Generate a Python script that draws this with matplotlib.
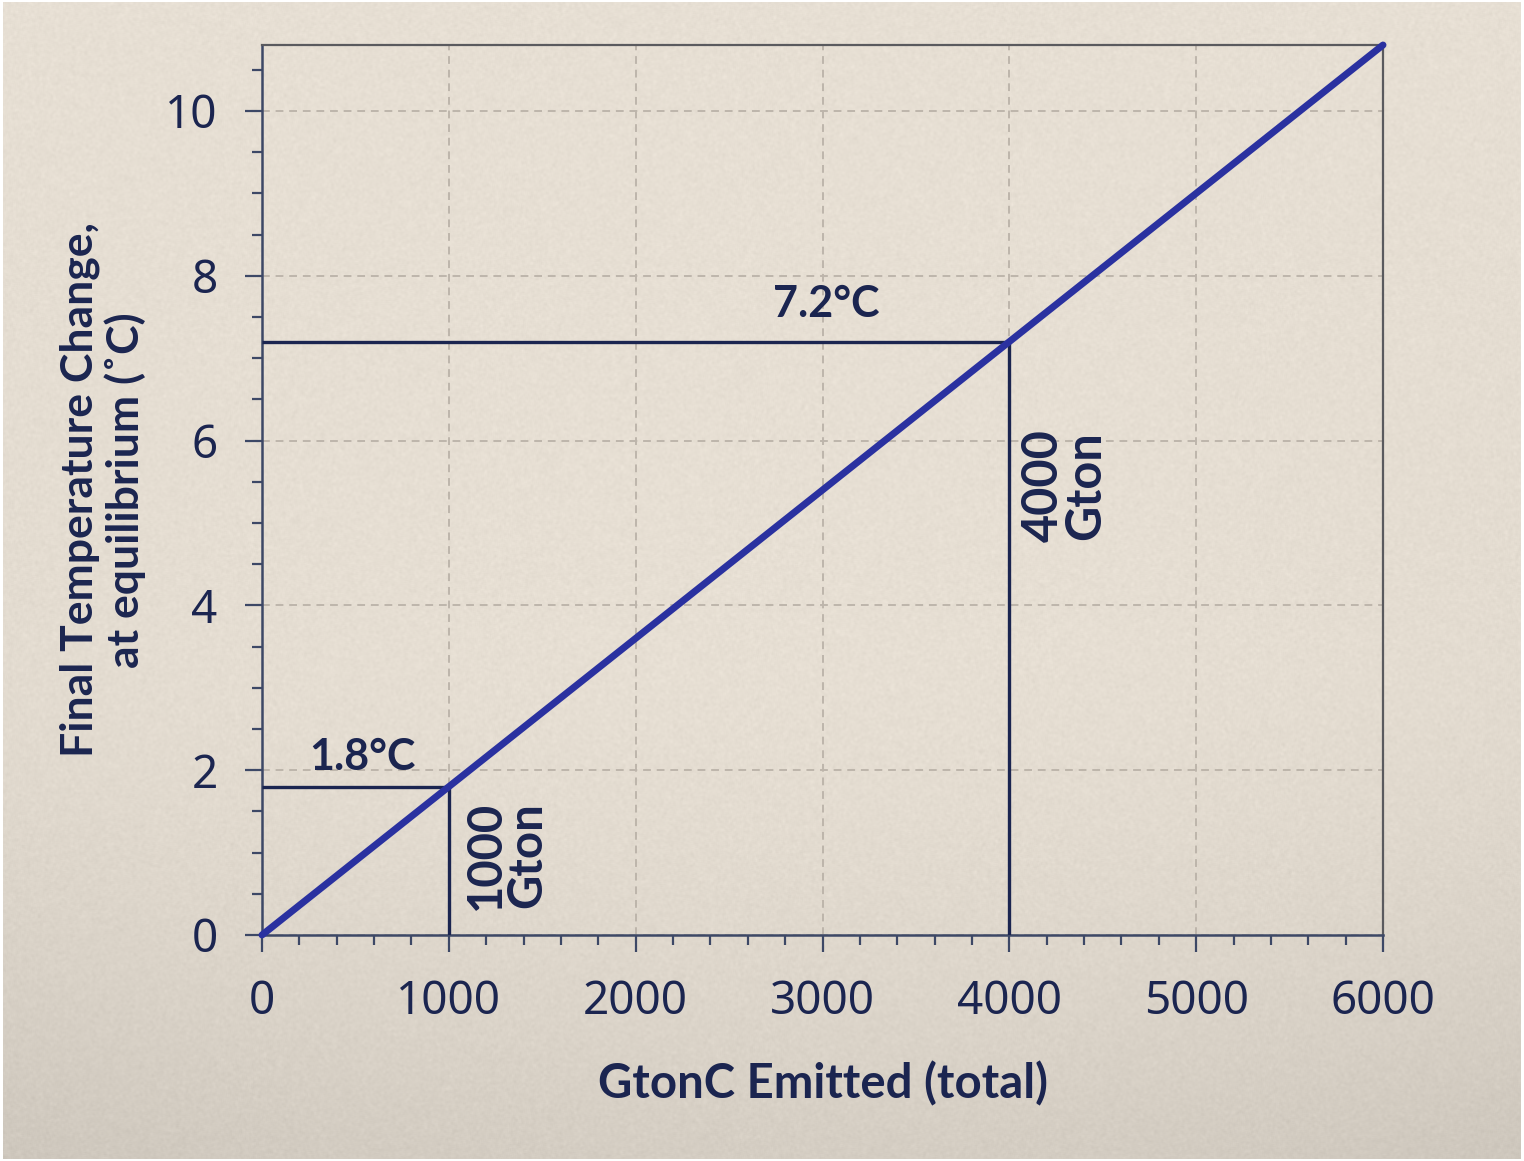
import numpy as np
import matplotlib
matplotlib.use("Agg")
import matplotlib.pyplot as plt
from matplotlib.ticker import MultipleLocator

# Cumulative carbon emitted vs. equilibrium warming
emissions = [0, 6000]          # GtonC
warming = [0.0, 10.8]          # degC

# Highlighted scenarios
marked_emissions = [1000, 4000]
marked_warming = [1.8, 7.2]
temp_labels = ["1.8°C", "7.2°C"]
gton_labels = ["1000\nGton", "4000\nGton"]

x_ticks = [0, 1000, 2000, 3000, 4000, 5000, 6000]
y_ticks = [0, 2, 4, 6, 8, 10]

W, H = 1524, 1161
fig = plt.figure(figsize=(W / 100, H / 100), dpi=100, facecolor="white")

# Paper-like backdrop with soft darkening toward the bottom
bg = fig.add_axes([0.002, 0.002, 0.996, 0.996], zorder=-10)
yy, xx = np.mgrid[0:H, 0:W]
ny = yy / H
nx = (xx - W / 2) / (W / 2)
shade = 1.0 - 0.08 * np.clip((ny - 0.55) / 0.45, 0, 1) ** 1.6 - 0.03 * (nx ** 2) * ny
base = np.array([0.905, 0.875, 0.830])
rng = np.random.default_rng(3)
grain = rng.normal(0, 0.02, (H, W))
k = np.ones(3) / 3
grain = np.apply_along_axis(lambda r: np.convolve(r, k, mode="same"), 1, grain)
grain = np.apply_along_axis(lambda c: np.convolve(c, k, mode="same"), 0, grain)
img = base[None, None, :] * shade[:, :, None] + grain[:, :, None]
bg.imshow(np.clip(img, 0, 1), aspect="auto", interpolation="bilinear")
bg.axis("off")

navy = "#1b2550"
spine_c = "#3d4866"
blue = "#2a31a0"
txt_font = ["Lato", "DejaVu Sans"]

ax = fig.add_axes([262 / W, 1 - 935 / H, (1383 - 262) / W, (935 - 45) / H])
ax.set_facecolor("none")
ax.set_xlim(0, 6000)
ax.set_ylim(0, 10.8)

ax.xaxis.set_major_locator(MultipleLocator(1000))
ax.xaxis.set_minor_locator(MultipleLocator(200))
ax.yaxis.set_major_locator(MultipleLocator(2))
ax.yaxis.set_minor_locator(MultipleLocator(0.5))
ax.set_xticks(x_ticks)
ax.set_yticks(y_ticks)

ax.grid(True, which="major", color="#bdb5ab", linestyle=(0, (4, 3)), linewidth=1.4, zorder=0)

for side in ["left", "bottom"]:
    ax.spines[side].set_color(spine_c)
    ax.spines[side].set_linewidth(1.8)
for side in ["top", "right"]:
    ax.spines[side].set_color("#5a5a5e")
    ax.spines[side].set_linewidth(1.6)

ax.tick_params(which="major", direction="out", length=12, width=1.6, color=spine_c,
               labelsize=33, labelcolor=navy, pad=20)
ax.tick_params(axis="x", which="major", pad=20)
ax.tick_params(which="minor", direction="out", length=7, width=1.6, color=spine_c)
for lab in ax.get_xticklabels() + ax.get_yticklabels():
    lab.set_family(["Noto Sans", "DejaVu Sans"])

# Reference lines for the highlighted scenarios
for xe, tw in zip(marked_emissions, marked_warming):
    ax.plot([0, xe], [tw, tw], color=navy, lw=2.4, solid_capstyle="butt", zorder=3)
    ax.plot([xe, xe], [0, tw], color=navy, lw=2.4, solid_capstyle="butt", zorder=3)

# Linear response line
ax.plot(emissions, warming, color=blue, lw=5, solid_capstyle="round", zorder=4, clip_on=False)

# Annotations
ax.text(540, marked_warming[0] + 0.12, temp_labels[0], ha="center", va="bottom",
        fontsize=31, fontweight="bold", color=navy, family=txt_font)
ax.text(3020, marked_warming[1] + 0.22, temp_labels[1], ha="center", va="bottom",
        fontsize=31, fontweight="bold", color=navy, family=txt_font)
ax.text(1310, 0.97, gton_labels[0], rotation=90, ha="center", va="center",
        fontsize=34, fontweight="bold", color=navy, family=txt_font, linespacing=0.92)
ax.text(4295, 5.45, gton_labels[1], rotation=90, ha="center", va="center",
        fontsize=35, fontweight="bold", color=navy, family=txt_font, linespacing=0.92)

ax.set_xlabel("GtonC Emitted (total)", fontsize=34, fontweight="bold", color=navy,
              family=txt_font, labelpad=26)
ax.set_ylabel("Final Temperature Change,\nat equilibrium (˚C)", fontsize=32,
              fontweight="bold", color=navy, family=txt_font, labelpad=14, linespacing=1.12)

fig.savefig("out.png", dpi=100, facecolor="white")
